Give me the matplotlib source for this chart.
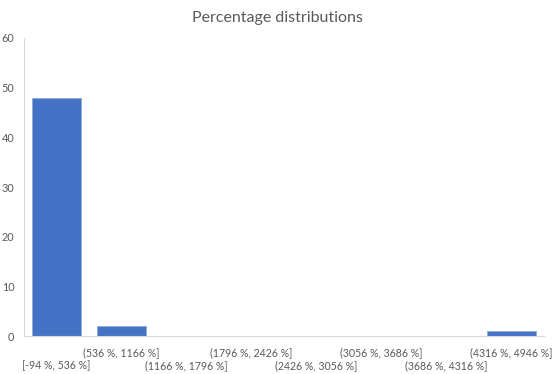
import matplotlib
matplotlib.use("Agg")
import matplotlib.pyplot as plt

# histogram bins and counts
bin_labels = ["[-94 %, 536 %]", "(536 %, 1166 %]", "(1166 %, 1796 %]", "(1796 %, 2426 %]",
              "(2426 %, 3056 %]", "(3056 %, 3686 %]", "(3686 %, 4316 %]", "(4316 %, 4946 %]"]
counts = [48, 2, 0, 0, 0, 0, 0, 1]
y_ticks = [0, 10, 20, 30, 40, 50, 60]

plt.rcParams['font.family'] = ['Lato', 'DejaVu Sans']
text_gray = '#595959'

fig = plt.figure(figsize=(5.54, 3.74), dpi=100)
ax = fig.add_axes([0.0433, 0.1016, 0.9387, 0.7968])

x = list(range(len(counts)))
ax.bar(x, counts, width=0.74, color='#4472C4', edgecolor='#8FAADC', linewidth=0.6)

ax.set_xlim(-0.5, len(counts) - 0.5)
ax.set_ylim(0, 60)
ax.set_yticks(y_ticks)
ax.set_xticks(x)
ax.set_xticklabels(bin_labels)

ax.tick_params(axis='x', length=0, labelsize=7.6, labelcolor=text_gray)
ax.tick_params(axis='y', length=0, labelsize=7.8, labelcolor=text_gray, pad=7)
for i, tick in enumerate(ax.xaxis.get_major_ticks()):
    tick.set_pad(17 if i % 2 == 0 else 8)

for side in ('top', 'right'):
    ax.spines[side].set_visible(False)
for side in ('left', 'bottom'):
    ax.spines[side].set_color('#d9d9d9')
    ax.spines[side].set_linewidth(0.8)

fig.suptitle('Percentage distributions', y=0.97, fontsize=11.5, color=text_gray)

fig.savefig('out.png', dpi=100)
